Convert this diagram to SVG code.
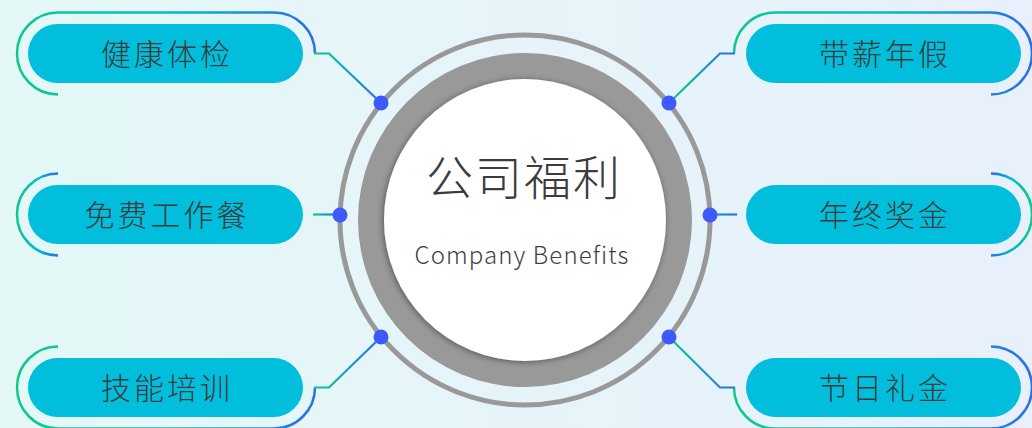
<svg xmlns="http://www.w3.org/2000/svg" width="1032" height="428" viewBox="0 0 1032 428">
  <defs>
    <linearGradient id="bg" x1="0" y1="0" x2="1" y2="0">
      <stop offset="0" stop-color="#e4f8f7"/>
      <stop offset="1" stop-color="#e8f0fb"/>
    </linearGradient>
    <linearGradient id="gb" x1="0" y1="0" x2="1" y2="0">
      <stop offset="0" stop-color="#0fc98a"/>
      <stop offset="0.5" stop-color="#00bcd0"/>
      <stop offset="1" stop-color="#2a6fe8"/>
    </linearGradient>
    <linearGradient id="bgr" x1="0" y1="0" x2="1" y2="0">
      <stop offset="0" stop-color="#2a6fe8"/>
      <stop offset="0.5" stop-color="#00bcd0"/>
      <stop offset="1" stop-color="#0fc98a"/>
    </linearGradient>
    <linearGradient id="cl1" gradientUnits="userSpaceOnUse" x1="315" y1="0" x2="381" y2="0">
      <stop offset="0" stop-color="#0fc98a"/>
      <stop offset="1" stop-color="#2a6fe8"/>
    </linearGradient>
    <linearGradient id="cl2" gradientUnits="userSpaceOnUse" x1="313" y1="0" x2="340" y2="0">
      <stop offset="0" stop-color="#0fc98a"/>
      <stop offset="1" stop-color="#2a6fe8"/>
    </linearGradient>
    <linearGradient id="cr1" gradientUnits="userSpaceOnUse" x1="669" y1="0" x2="734" y2="0">
      <stop offset="0" stop-color="#0fc98a"/>
      <stop offset="1" stop-color="#2a6fe8"/>
    </linearGradient>
    <linearGradient id="cr2" gradientUnits="userSpaceOnUse" x1="700" y1="0" x2="736" y2="0">
      <stop offset="0" stop-color="#00bcd0"/>
      <stop offset="1" stop-color="#2a6fe8"/>
    </linearGradient>
    <filter id="sh" x="-20%" y="-20%" width="140%" height="140%">
      <feDropShadow dx="-1" dy="1" stdDeviation="3" flood-color="#000" flood-opacity="0.45"/>
    </filter>
    <style>
      .pill { fill: #00bedc; }
      .ptxt { font-family: "Noto Sans CJK SC", "Noto Sans", sans-serif; font-size: 30px; font-weight: 300; letter-spacing: 3px; fill: #3c3c3c; text-anchor: middle; }
      .brk { fill: none; stroke-width: 2.5; stroke-linecap: butt; }
      .con { fill: none; stroke-width: 2.2; }
      .dot { fill: #3d5afe; }
    </style>
  </defs>

  <rect width="1032" height="428" fill="url(#bg)"/>

  <g id="center">
    <circle cx="525" cy="220" r="185" fill="none" stroke="#999999" stroke-width="5"/>
    <circle cx="525" cy="220" r="167" fill="#999999"/>
    <circle cx="525" cy="220" r="141" fill="#ffffff" filter="url(#sh)"/>
    <text x="524" y="195" font-family="'Noto Sans CJK SC', sans-serif" font-size="47" font-weight="300" letter-spacing="2" fill="#3c3c3c" text-anchor="middle">公司福利</text>
    <text x="522" y="264" font-family="'Noto Sans CJK SC', 'Noto Sans', sans-serif" font-size="24" font-weight="300" letter-spacing="1.1" fill="#404040" text-anchor="middle">Company Benefits</text>
  </g>

  <g id="connectors">
    <path class="brk" stroke="url(#gb)" d="M58,94.5 A41,41 0 0 1 58,12.5 L274,12.5 A41,41 0 0 1 315,53.5"/>
    <path class="con" stroke="url(#cl1)" d="M314,53.5 L329,53.5 L381,103"/>
    <path class="brk" stroke="url(#gb)" d="M58,173.5 A41,41 0 0 0 58,255.5"/>
    <path class="con" stroke="url(#cl2)" d="M313,214.5 L340,214.5"/>
    <path class="brk" stroke="url(#gb)" d="M58,346.5 A41,41 0 0 0 58,428.5 L274,428.5 A41,41 0 0 0 315,387.5"/>
    <path class="con" stroke="url(#cl1)" d="M314,387.5 L329,387.5 L381,337"/>

    <path class="brk" stroke="url(#gb)" d="M991,94.5 A41,41 0 0 0 991,12.5 L775,12.5 A41,41 0 0 0 734,53.5"/>
    <path class="con" stroke="url(#cr1)" d="M735,53.5 L720,53.5 L669,103"/>
    <path class="brk" stroke="url(#bgr)" d="M991,173.5 A41,41 0 0 1 991,255.5"/>
    <path class="con" stroke="url(#cr2)" d="M710,214.5 L737,214.5"/>
    <path class="brk" stroke="url(#gb)" d="M991,346.5 A41,41 0 0 1 991,428.5 L775,428.5 A41,41 0 0 1 734,387.5"/>
    <path class="con" stroke="url(#cr1)" d="M735,387.5 L720,387.5 L669,337"/>

    <circle class="dot" cx="381" cy="103" r="7.5"/>
    <circle class="dot" cx="340" cy="215" r="7.5"/>
    <circle class="dot" cx="381" cy="337" r="7.5"/>
    <circle class="dot" cx="669" cy="103" r="7.5"/>
    <circle class="dot" cx="710" cy="215" r="7.5"/>
    <circle class="dot" cx="669" cy="337" r="7.5"/>
  </g>

  <g id="n1"><rect class="pill" x="28" y="24" width="275" height="59" rx="29.5"/><text class="ptxt" x="167" y="64.5">健康体检</text></g>
  <g id="n2"><rect class="pill" x="28" y="185" width="275" height="59" rx="29.5"/><text class="ptxt" x="167" y="225.5">免费工作餐</text></g>
  <g id="n3"><rect class="pill" x="28" y="358" width="275" height="59" rx="29.5"/><text class="ptxt" x="167" y="398.5">技能培训</text></g>
  <g id="n4"><rect class="pill" x="746" y="24" width="275" height="59" rx="29.5"/><text class="ptxt" x="885" y="64.5">带薪年假</text></g>
  <g id="n5"><rect class="pill" x="746" y="185" width="275" height="59" rx="29.5"/><text class="ptxt" x="885" y="225.5">年终奖金</text></g>
  <g id="n6"><rect class="pill" x="746" y="358" width="275" height="59" rx="29.5"/><text class="ptxt" x="885" y="398.5">节日礼金</text></g>
</svg>
